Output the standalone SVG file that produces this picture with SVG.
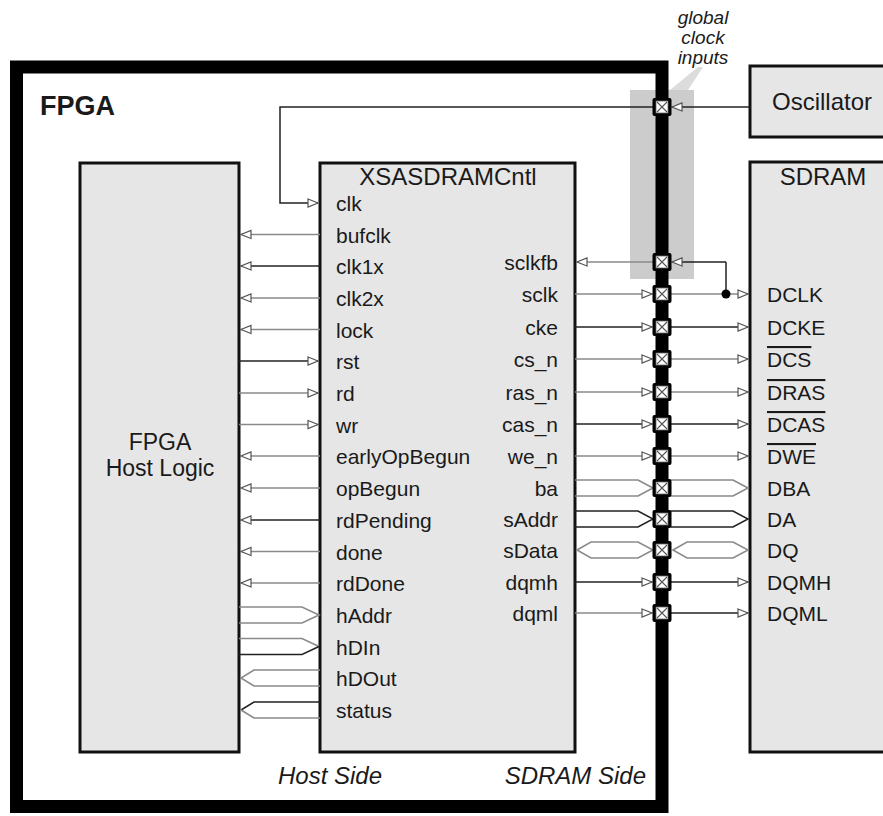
<svg xmlns="http://www.w3.org/2000/svg" xmlns:xlink="http://www.w3.org/1999/xlink" width="883" height="816" viewBox="0 0 883 816">
<style>
text{font-family:"Liberation Sans",Arial,sans-serif;fill:#1a1a1a}
.sig{font-size:21px}
.ttl{font-size:24px}
.it{font-style:italic}
.ov{text-decoration:overline}
.box{fill:#e6e6e6;stroke:#111;stroke-width:3}
.k{fill:none;stroke:#222;stroke-width:1.5}
.g{fill:none;stroke:#8a8a8a;stroke-width:1.6}
.a{marker-end:url(#arr)}
</style>
<defs>
<marker id="arr" viewBox="0 0 12 10" refX="11" refY="5" markerWidth="12" markerHeight="10" markerUnits="userSpaceOnUse" orient="auto" overflow="visible">
<path d="M1,1 L11,5 L1,9 Z" fill="#fff" stroke="#555" stroke-width="1.2"/>
</marker>
<g id="pin">
<rect x="-9.5" y="-9" width="19" height="18" rx="2" fill="#000"/>
<rect x="-6" y="-6" width="12" height="12" fill="#fff" stroke="#666" stroke-width="0.8"/>
<path d="M-5,-5 L5,5 M5,-5 L-5,5" stroke="#555" stroke-width="1.1"/>
</g>
</defs>
<rect width="883" height="816" fill="#fff"/>

<!-- highlight column and callout -->
<g id="global-clock-inputs">
<polygon points="698,67 703,67 688,90 670,90" fill="#dcdcdc"/>
<rect x="630" y="90" width="64" height="189" fill="#cccccc"/>
<text class="it" x="703" y="23.5" font-size="19" text-anchor="middle">global</text>
<text class="it" x="703" y="43.8" font-size="19" text-anchor="middle">clock</text>
<text class="it" x="703" y="64.1" font-size="19" text-anchor="middle">inputs</text>
</g>

<!-- FPGA outline -->
<g id="fpga">
<rect x="16.5" y="67" width="645.5" height="739.5" fill="none" stroke="#000" stroke-width="13"/>
<text x="40" y="115" font-size="27" font-weight="bold">FPGA</text>
</g>

<g id="host-logic">
<rect class="box" x="80" y="163" width="159" height="589"/>
<text x="160" y="450" font-size="23" text-anchor="middle">FPGA</text>
<text x="160" y="476" font-size="23" text-anchor="middle">Host Logic</text>
</g>

<g id="xsasdramcntl">
<rect class="box" x="320" y="163" width="255" height="589"/>
<text class="ttl" x="448" y="185" text-anchor="middle">XSASDRAMCntl</text>
<g class="sig">
<text x="336" y="211">clk</text>
<text x="336" y="242.5">bufclk</text>
<text x="336" y="274">clk1x</text>
<text x="336" y="306">clk2x</text>
<text x="336" y="337.5">lock</text>
<text x="336" y="369">rst</text>
<text x="336" y="401">rd</text>
<text x="336" y="432.5">wr</text>
<text x="336" y="464">earlyOpBegun</text>
<text x="336" y="496">opBegun</text>
<text x="336" y="528">rdPending</text>
<text x="336" y="559.5">done</text>
<text x="336" y="591">rdDone</text>
<text x="336" y="623">hAddr</text>
<text x="336" y="654.5">hDIn</text>
<text x="336" y="686">hDOut</text>
<text x="336" y="718">status</text>
</g>
<g class="sig" text-anchor="end">
<text x="558" y="270">sclkfb</text>
<text x="558" y="302">sclk</text>
<text x="558" y="335">cke</text>
<text x="558" y="367">cs_n</text>
<text x="558" y="400">ras_n</text>
<text x="558" y="432">cas_n</text>
<text x="558" y="464">we_n</text>
<text x="558" y="496">ba</text>
<text x="558" y="527">sAddr</text>
<text x="558" y="558">sData</text>
<text x="558" y="590">dqmh</text>
<text x="558" y="621">dqml</text>
</g>
<text class="ttl it" x="278" y="784">Host Side</text>
<text class="ttl it" x="646" y="784" text-anchor="end">SDRAM Side</text>
</g>

<g id="oscillator">
<rect class="box" x="750" y="66" width="145" height="71"/>
<text class="ttl" x="822" y="110" text-anchor="middle">Oscillator</text>
</g>

<g id="sdram">
<rect class="box" x="750" y="162" width="145" height="590"/>
<text class="ttl" x="823" y="185" text-anchor="middle">SDRAM</text>
<g class="sig">
<text x="767" y="302">DCLK</text>
<text x="767" y="335">DCKE</text>
<text class="ov" x="767" y="367">DCS</text>
<text class="ov" x="767" y="400">DRAS</text>
<text class="ov" x="767" y="432">DCAS</text>
<text class="ov" x="767" y="464">DWE</text>
<text x="767" y="496">DBA</text>
<text x="767" y="527">DA</text>
<text x="767" y="558">DQ</text>
<text x="767" y="590">DQMH</text>
<text x="767" y="621">DQML</text>
</g>
</g>

<g id="connectors">
<!-- clock path -->
<path class="k a" d="M750,107 H672"/>
<path class="k a" d="M653,107 H280 V203 H318"/>
<!-- host side -->
<path class="g a" d="M320,234.5 H241"/>
<path class="k a" d="M320,266 H241"/>
<path class="g a" d="M320,298 H241"/>
<path class="g a" d="M320,329.5 H241"/>
<path class="k a" d="M239,361 H318"/>
<path class="g a" d="M239,393 H318"/>
<path class="g a" d="M239,424.5 H318"/>
<path class="g a" d="M320,456 H241"/>
<path class="g a" d="M320,488 H241"/>
<path class="k a" d="M320,520 H241"/>
<path class="g a" d="M320,551.5 H241"/>
<path class="g a" d="M320,583 H241"/>
<path class="g" d="M239,607 H302 L319,615 L302,623 H239"/>
<path class="g" d="M239,638.5 H302 L319,646.5"/>
<path class="k" d="M319,646.5 L302,654.5 H239"/>
<path class="g" d="M320,670 H254 L241,678 L254,686 H320"/>
<path class="k" d="M320,702 H254 L241,710"/>
<path class="g" d="M241,710 L254,718 H320"/>
<!-- sdram side -->
<path class="g a" d="M653,262 H577"/>
<path class="k a" d="M726,262 H672"/>
<path class="k" d="M726,262 V294"/>
<path class="g a" d="M575,294 H652"/>
<path class="g a" d="M671,294 H748"/>
<circle cx="726" cy="294" r="4.5" fill="#000"/>
<path class="k a" d="M575,327 H652"/>
<path class="k a" d="M671,327 H748"/>
<path class="g a" d="M575,359 H652"/>
<path class="g a" d="M671,359 H748"/>
<path class="g a" d="M575,392 H652"/>
<path class="g a" d="M671,392 H748"/>
<path class="k a" d="M575,424 H652"/>
<path class="k a" d="M671,424 H748"/>
<path class="g a" d="M575,456 H652"/>
<path class="g a" d="M671,456 H748"/>
<path class="g" d="M575,480 H638 L653,488 L638,496 H575"/>
<path class="g" d="M671,480 H733 L748,488 L733,496 H671"/>
<path class="k" d="M575,511 H638 L653,519 L638,527 H575"/>
<path class="k" d="M671,511 H733 L748,519 L733,527 H671"/>
<path class="g" d="M577,550 L591,542 H638 L653,550 L638,558 H591 Z"/>
<path class="g" d="M673,550 L687,542 H733 L748,550 L733,558 H687 Z"/>
<path class="k a" d="M575,582 H652"/>
<path class="k a" d="M671,582 H748"/>
<path class="g a" d="M575,613 H652"/>
<path class="k a" d="M671,613 H748"/>
</g>

<g id="pins">
<use xlink:href="#pin" x="662" y="107"/>
<use xlink:href="#pin" x="662" y="262"/>
<use xlink:href="#pin" x="662" y="294"/>
<use xlink:href="#pin" x="662" y="327"/>
<use xlink:href="#pin" x="662" y="359"/>
<use xlink:href="#pin" x="662" y="392"/>
<use xlink:href="#pin" x="662" y="424"/>
<use xlink:href="#pin" x="662" y="456"/>
<use xlink:href="#pin" x="662" y="488"/>
<use xlink:href="#pin" x="662" y="519"/>
<use xlink:href="#pin" x="662" y="550"/>
<use xlink:href="#pin" x="662" y="582"/>
<use xlink:href="#pin" x="662" y="613"/>
</g>
</svg>
